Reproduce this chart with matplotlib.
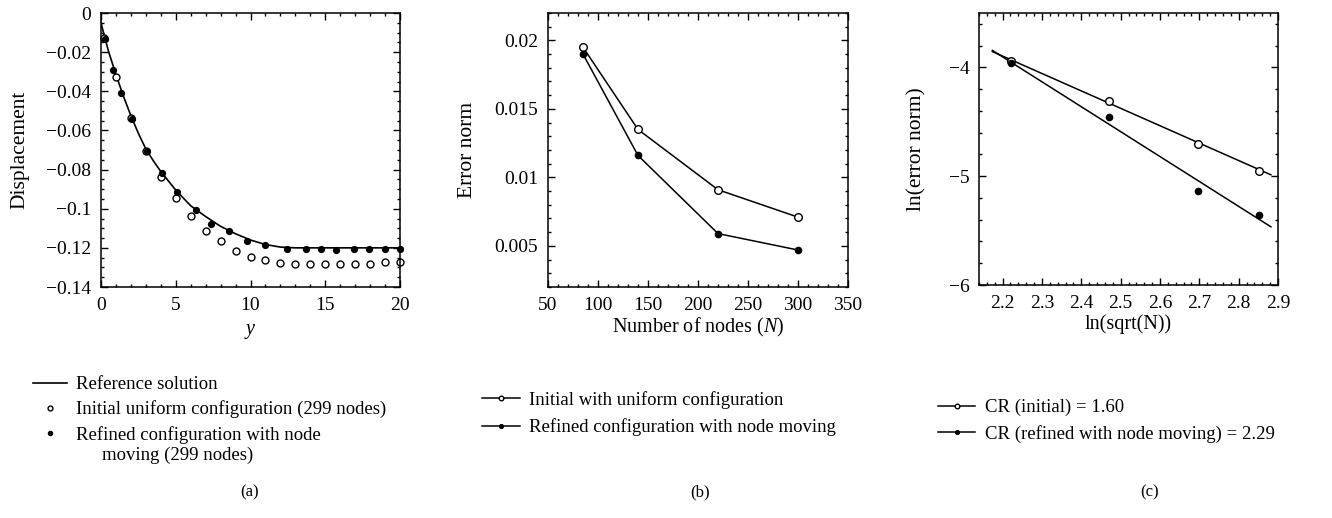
import matplotlib
matplotlib.use("Agg")
import numpy as np
import matplotlib.pyplot as plt
from matplotlib.ticker import MultipleLocator, FuncFormatter

plt.rcParams['font.family'] = ['Liberation Serif', 'DejaVu Serif']
plt.rcParams['mathtext.fontset'] = 'custom'
plt.rcParams['mathtext.rm'] = 'Liberation Serif'
plt.rcParams['mathtext.it'] = 'Liberation Serif:italic'
plt.rcParams['font.size'] = 13.5
plt.rcParams['axes.linewidth'] = 1.1

# (a) displacement profile
ref_y = [0, 0.25, 0.5, 1, 1.5, 2, 2.5, 3, 3.5, 4, 5, 6, 7, 8, 9, 10, 11, 12, 13, 20]
ref_disp = [-0.005, -0.0125, -0.0195, -0.0315, -0.0425, -0.0525, -0.0615, -0.0695,
            -0.0755, -0.081, -0.0905, -0.0985, -0.104, -0.109, -0.1128, -0.116,
            -0.1183, -0.1196, -0.120, -0.120]
init_y = [0.2, 1, 2, 3, 4, 5, 6, 7, 8, 9, 10, 11, 12, 13, 14, 15, 16, 17, 18, 19, 20]
init_disp = [-0.013, -0.0329, -0.0536, -0.0706, -0.0837, -0.0946, -0.1038, -0.1114,
             -0.1163, -0.1214, -0.1245, -0.1264, -0.1276, -0.1285, -0.1285, -0.1285,
             -0.1285, -0.1285, -0.1285, -0.1274, -0.1274]
refined_y = [0.27, 0.78, 1.32, 2.09, 3.11, 4.1, 5.08, 6.33, 7.38, 8.54, 9.77, 11.0,
             12.46, 13.73, 14.72, 15.72, 16.9, 17.9, 18.98, 20.0]
refined_disp = [-0.0131, -0.0289, -0.0408, -0.0544, -0.0706, -0.0816, -0.0915, -0.1007,
                -0.1077, -0.1114, -0.1163, -0.1186, -0.1204, -0.1204, -0.1204, -0.1213,
                -0.1204, -0.1204, -0.1204, -0.1204]

# (b) error norm against number of nodes
nodes = [85, 140, 220, 300]
err_initial = [0.0195, 0.0135, 0.0091, 0.0071]
err_refined = [0.019, 0.0116, 0.0059, 0.0047]

# (c) convergence rates
cr_initial = 1.60
cr_refined = 2.29
fit_x = [2.174, 2.882]

TICK_FS = 14
LABEL_FS = 14.5
LEG_FS = 13.5

minus = lambda v, p: ('%g' % v).replace('-', '\u2212')


def style_axes(ax):
    ax.tick_params(which='both', direction='in', top=True, right=True,
                   labelsize=TICK_FS, width=1.0, pad=7)
    ax.tick_params(which='major', length=5)
    ax.tick_params(which='minor', length=2.5)


fig = plt.figure(figsize=(13.32, 5.18), dpi=100)
H = 518.0
W = 1332.0


def add_axes(left, right, top, bottom):
    return fig.add_axes([left / W, 1 - bottom / H, (right - left) / W, (bottom - top) / H])


axa = add_axes(101, 400, 13, 287)
axb = add_axes(548, 848, 13, 287)
axc = add_axes(979, 1278, 13, 285)

# ---- panel (a)
la, = axa.plot(ref_y, ref_disp, color='black', lw=1.2)
pa1, = axa.plot(init_y, init_disp, 'o', mfc='white', mec='black', mew=1.0, ms=5, clip_on=False)
pa2, = axa.plot(refined_y, refined_disp, 'o', color='black', ms=4.2, clip_on=False)
axa.set_xlim(0, 20)
axa.set_ylim(-0.14, 0)
axa.xaxis.set_major_locator(MultipleLocator(5))
axa.xaxis.set_minor_locator(MultipleLocator(1))
axa.yaxis.set_major_locator(MultipleLocator(0.02))
axa.yaxis.set_minor_locator(MultipleLocator(0.005))
axa.yaxis.set_major_formatter(FuncFormatter(minus))
axa.set_xlabel('$y$', fontsize=LABEL_FS, labelpad=6)
axa.set_ylabel('Displacement', fontsize=LABEL_FS + 1)
axa.yaxis.set_label_coords(-0.241, 0.5)
style_axes(axa)

fig.legend([la, pa1, pa2],
           ['Reference solution', 'Initial uniform configuration (299 nodes)',
            'Refined configuration with node'],
           loc='upper left', bbox_to_anchor=(33 / W, 1 - 376 / H),
           frameon=False, handlelength=1.8, handletextpad=0.5, labelspacing=0.39,
           borderpad=0, borderaxespad=0, markerscale=0.7, fontsize=LEG_FS)
fig.text(102 / W, 1 - 455 / H, 'moving (299 nodes)', ha='left', va='center', fontsize=LEG_FS)

# ---- panel (b)
lb1, = axb.plot(nodes, err_initial, '-o', color='black', mfc='white', mec='black',
                mew=1.0, ms=5.5, lw=1.1)
lb2, = axb.plot(nodes, err_refined, '-o', color='black', ms=4.5, lw=1.1)
axb.set_xlim(50, 350)
axb.set_ylim(0.002, 0.022)
axb.xaxis.set_major_locator(MultipleLocator(50))
axb.xaxis.set_minor_locator(MultipleLocator(10))
axb.yaxis.set_major_locator(MultipleLocator(0.005))
axb.yaxis.set_minor_locator(MultipleLocator(0.001))
axb.yaxis.set_major_formatter(FuncFormatter(minus))
axb.set_xlabel('Number of nodes ($N$)', fontsize=LABEL_FS, labelpad=1.5)
axb.set_ylabel('Error norm', fontsize=LABEL_FS + 1)
axb.yaxis.set_label_coords(-0.237, 0.5)
style_axes(axb)

fig.legend([lb1, lb2],
           ['Initial with uniform configuration', 'Refined configuration with node moving'],
           loc='upper left', bbox_to_anchor=(482 / W, 1 - 391 / H),
           frameon=False, handlelength=2.0, handletextpad=0.5, labelspacing=0.51,
           borderpad=0, borderaxespad=0, markerscale=0.6, fontsize=LEG_FS)

# ---- panel (c)
lnx = np.log(np.sqrt(nodes))
ln_init = np.log(err_initial)
ln_ref = np.log(err_refined)
fx = np.array(fit_x)
fit_init = ln_init.mean() - cr_initial * (fx - lnx.mean())
fit_ref = ln_ref.mean() - cr_refined * (fx - lnx.mean())

axc.plot(fx, fit_init, color='black', lw=1.1)
axc.plot(fx, fit_ref, color='black', lw=1.1)
axc.plot(lnx, ln_init, 'o', mfc='white', mec='black', mew=1.0, ms=5.5)
axc.plot(lnx, ln_ref, 'o', color='black', ms=4.5)
axc.set_xlim(2.14, 2.9)
axc.set_ylim(-6, -3.5)
axc.xaxis.set_major_locator(MultipleLocator(0.1))
axc.xaxis.set_minor_locator(MultipleLocator(0.02))
axc.yaxis.set_major_locator(MultipleLocator(1))
axc.yaxis.set_minor_locator(MultipleLocator(0.2))
axc.yaxis.set_major_formatter(FuncFormatter(minus))
axc.xaxis.set_major_formatter(FuncFormatter(minus))
axc.set_xlabel('ln(sqrt(N))', fontsize=LABEL_FS, labelpad=1.5)
axc.set_ylabel('ln(error norm)', fontsize=LABEL_FS + 1)
axc.yaxis.set_label_coords(-0.174, 0.5)
style_axes(axc)

hc1, = axc.plot([], [], '-o', color='black', mfc='white', mec='black', mew=1.0, ms=5.5, lw=1.1)
hc2, = axc.plot([], [], '-o', color='black', ms=4.5, lw=1.1)
fig.legend([hc1, hc2],
           ['CR (initial) = %.2f' % cr_initial,
            'CR (refined with node moving) = %.2f' % cr_refined],
           loc='upper left', bbox_to_anchor=(938 / W, 1 - 399 / H),
           frameon=False, handlelength=2.0, handletextpad=0.5, labelspacing=0.46,
           borderpad=0, borderaxespad=0, markerscale=0.6, fontsize=LEG_FS)

for lab, xc in (('(a)', 250), ('(b)', 700), ('(c)', 1150)):
    fig.text(xc / W, 1 - 492 / H, lab, ha='center', va='center', fontsize=12)

fig.savefig('out.png', dpi=100)
